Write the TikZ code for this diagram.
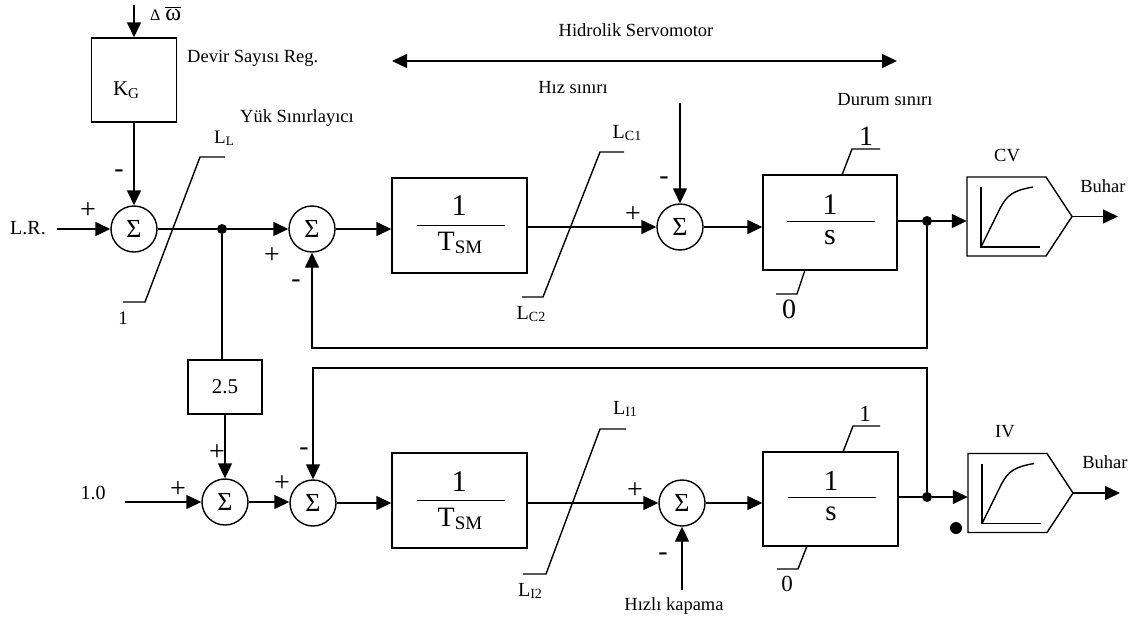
\documentclass[tikz,border=0pt]{standalone}
\usepackage{fontspec}
\setmainfont{Liberation Serif}
\usetikzlibrary{arrows.meta,calc}
\newcommand\fsz[1]{\fontsize{#1}{#1}\selectfont}
\newcommand\lsub[2]{\raisebox{-0.12em}{\fsz{#1}#2}}
\newcommand\barw{\leavevmode\vbox{\hrule height 1.2pt\kern 1.2pt\hbox{\fsz{24}ω}}}
\begin{document}
\begin{tikzpicture}[x=1pt,y=-1pt,
  wire/.style={line width=1.4pt},
  conn/.style={wire,-{Triangle[length=15pt,width=14pt]}},
  dconn/.style={wire,{Triangle[length=15pt,width=14pt]}-{Triangle[length=15pt,width=14pt]}},
  sumnode/.style={circle,draw,line width=1.4pt,minimum size=46pt,inner sep=0pt,font=\fsz{26}},
  blk/.style={draw,line width=1.4pt,inner sep=0pt},
  dotnode/.style={circle,fill,inner sep=0pt,minimum size=10pt},
  lbl/.style={inner sep=0pt,font=\fsz{18.5}},
  sgn/.style={inner sep=0pt,font=\fsz{28}},
  frac/.style={inner sep=0pt,font=\fsz{30}},
  valvebox/.style={inner sep=0pt,minimum width=105pt,minimum height=79pt},
  valve/.pic={
    \draw[wire,line join=miter] (-52.5,-39.5) -- (26.5,-39.5) -- (52.5,0)
      -- (26.5,39.5) -- (-52.5,39.5) -- cycle;
    \draw[wire] (-38.5,-29.5) -- (-38.5,30.5) -- (20.5,30.5);
    \draw[wire] (-38.5,30.5) -- (-19,-9) .. controls (-12,-22) and (-6,-26) .. (13.5,-29.5);
  }]
\useasboundingbox (0,0) rectangle (1141,621);

% ---------- speed governor ----------
\coordinate (dwin) at (134,5);
\node[blk,minimum width=85pt,minimum height=84pt] (kg) at (134,80) {};
\node[inner sep=0pt,font=\fsz{21}] (kgtxt) at (126,90) {K\lsub{15}{G}};
\node[inner sep=0pt,anchor=west] (dw) at (150,14) {{\fsz{16}Δ}\hspace{5pt}\barw};
\node[lbl,anchor=west] (devir) at (187,58) {Devir Sayısı Reg.};
\draw[conn] (dwin) -- (kg.north);

% ---------- upper row (control valve) ----------
\node[sumnode] (s1) at (134,229) {Σ};
\node[inner sep=0pt,font=\fsz{20}] (lr) at (28,228) {L.R.};
\coordinate (lrin) at (57,229);
\draw[conn] (lrin) -- (s1.west);
\draw[conn] (kg.south) -- (s1.north);
\node[sgn] (p1) at (88,211) {+};
\node[sgn] (m1) at (119,174) {-};

% load limiter
\draw[wire] (123,302) -- (145,302) -- (200,157) -- (225,157);
\node[inner sep=0pt,font=\fsz{19}] (ll) at (224,138) {L\lsub{13}{L}};
\node[inner sep=0pt,font=\fsz{19}] (ll1) at (123,318) {1};
\node[lbl,anchor=west] (yuk) at (240,118) {Yük Sınırlayıcı};

\node[dotnode] (j1) at (222,229) {};
\node[sumnode] (s2) at (312,229) {Σ};
\draw[wire] (s1.east) -- (j1);
\draw[conn] (j1) -- (s2.west);
\node[sgn] (p2) at (272,256) {+};
\node[sgn] (m2) at (296,284) {-};

\node[blk,minimum width=135pt,minimum height=95pt] (tsm1) at (459.5,225.5) {};
\draw[conn] (s2.east) -- (s2.east -| tsm1.west);
\node[frac] (tsm1n) at (459,206) {1};
\draw[wire] ($(tsm1.center)+(-43,0)$) -- ($(tsm1.center)+(45,0)$);
\node[frac,font=\fsz{28}] (tsm1d) at (460,243) {T\lsub{19}{SM}};

% rate limiter
\node[sumnode] (s5) at (680,227) {Σ};
\draw[conn] (tsm1.east |- s5.west) -- (s5.west);
\draw[wire] (522,297) -- (543,297) -- (600,152) -- (624,152);
\node[inner sep=0pt,font=\fsz{20}] (lc1) at (627,133) {L\lsub{14}{C1}};
\node[inner sep=0pt,font=\fsz{20}] (lc2) at (531,314) {L\lsub{14}{C2}};
\node[sgn] (p5) at (633,215) {+};
\node[sgn] (m5) at (664,181) {-};
\coordinate (hizin) at (680,103);
\draw[conn] (hizin) -- (s5.north);
\node[lbl] (hiz) at (573,88) {Hız sınırı};

\node[lbl] (servo) at (636,30) {Hidrolik Servomotor};
\coordinate (hsl) at (392,61);
\coordinate (hsr) at (897,61);
\draw[dconn] (hsl) -- (hsr);

% position limiter / integrator
\node[blk,minimum width=134pt,minimum height=95pt] (int1) at (830,222.5) {};
\draw[conn] (s5.east) -- (s5.east -| int1.west);
\node[frac] (int1n) at (830,205) {1};
\draw[wire] ($(int1.center)+(-43,-0.8)$) -- ($(int1.center)+(45,-0.8)$);
\node[frac] (int1d) at (830,238) {s};
\draw[wire] (842,175) -- (852,149) -- (880,149);
\node[inner sep=0pt,font=\fsz{28}] (int1hi) at (866,136) {1};
\draw[wire] (805,270) -- (797,294) -- (776,294);
\node[inner sep=0pt,font=\fsz{28}] (int1lo) at (789,309) {0};
\node[lbl] (durum) at (885,100) {Durum sınırı};

\node[dotnode] (j2) at (927,221) {};
\draw[wire] (int1.east |- j2) -- (j2);
\node[valvebox] (cv) at (1019.5,216.5) {};
\pic at (cv.center) {valve};
\draw[conn] (j2) -- (j2 -| cv.west);
\node[lbl] (cvl) at (1007,156) {CV};
\node[lbl] (buhar1) at (1103,186) {Buhar};
\coordinate (cvout) at (1118,216.5);
\draw[conn] (cv.east) -- (cvout);

\coordinate (fb1) at (927,348);
\draw[conn] (j2) -- (fb1) -| (s2.south);

% ---------- lower row (intercept valve) ----------
\node[blk,minimum width=74pt,minimum height=54pt,font=\fsz{21}] (k25) at (225,387) {2.5};
\draw[wire] (j1) -- (j1 |- k25.north);
\node[sumnode] (s3) at (225,502) {Σ};
\draw[conn] (k25.south) -- (s3.north);
\node[sgn] (p3a) at (217,453) {+};
\node[sgn] (p3b) at (178,490) {+};
\node[inner sep=0pt,font=\fsz{20}] (in10l) at (93,493) {1.0};
\coordinate (in10) at (125,502);
\draw[conn] (in10) -- (s3.west);

\node[sumnode] (s4) at (313,503) {Σ};
\draw[conn] (s3.east) -- (s3.east -| s4.west);
\node[sgn] (p4) at (282,484) {+};
\node[sgn] (m4) at (304,452) {-};

\node[blk,minimum width=135pt,minimum height=95pt] (tsm2) at (459.5,500.5) {};
\draw[conn] (s4.east) -- (s4.east -| tsm2.west);
\node[frac] (tsm2n) at (459,482) {1};
\draw[wire] ($(tsm2.center)+(-43,0)$) -- ($(tsm2.center)+(45,0)$);
\node[frac,font=\fsz{28}] (tsm2d) at (460,519) {T\lsub{19}{SM}};

\node[sumnode] (s6) at (682,503) {Σ};
\draw[conn] (tsm2.east |- s6.west) -- (s6.west);
\draw[wire] (523,574) -- (546,574) -- (600,429) -- (626,429);
\node[inner sep=0pt,font=\fsz{20}] (li1) at (625,409) {L\lsub{14}{I1}};
\node[inner sep=0pt,font=\fsz{20}] (li2) at (530,591) {L\lsub{14}{I2}};
\node[sgn] (p6) at (635,491) {+};
\node[sgn] (m6) at (663,557) {-};
\coordinate (hkin) at (682,590);
\draw[conn] (hkin) -- (s6.south);
\node[lbl] (hk) at (674,606) {Hızlı kapama};

\node[blk,minimum width=135pt,minimum height=94pt] (int2) at (830.5,499) {};
\draw[conn] (s6.east) -- (s6.east -| int2.west);
\node[frac,font=\fsz{29}] (int2n) at (831,481) {1};
\draw[wire] ($(int2.center)+(-43,-1.3)$) -- ($(int2.center)+(45,-1.3)$);
\node[frac,font=\fsz{29}] (int2d) at (831,514) {s};
\draw[wire] (843,452) -- (853,426) -- (880,426);
\node[inner sep=0pt,font=\fsz{23}] (int2hi) at (865,414) {1};
\draw[wire] (807,546) -- (798,569) -- (777,569);
\node[inner sep=0pt,font=\fsz{23}] (int2lo) at (787,584) {0};

\node[dotnode] (j4) at (927,497) {};
\draw[wire] (int2.east |- j4) -- (j4);
\node[valvebox] (iv) at (1020.5,493) {};
\pic at (iv.center) {valve};
\draw[conn] (j4) -- (j4 -| iv.west);
\node[dotnode,minimum size=12pt] (spot) at (956,528) {};
\node[lbl] (ivl) at (1005,432) {IV};
\node[lbl] (buhar2) at (1105,462) {Buhar};
\coordinate (ivout) at (1120,493);
\draw[conn] (iv.east) -- (ivout);

\coordinate (fb2) at (927,368);
\draw[conn] (j4) -- (fb2) -| (s4.north);
\end{tikzpicture}
\end{document}
